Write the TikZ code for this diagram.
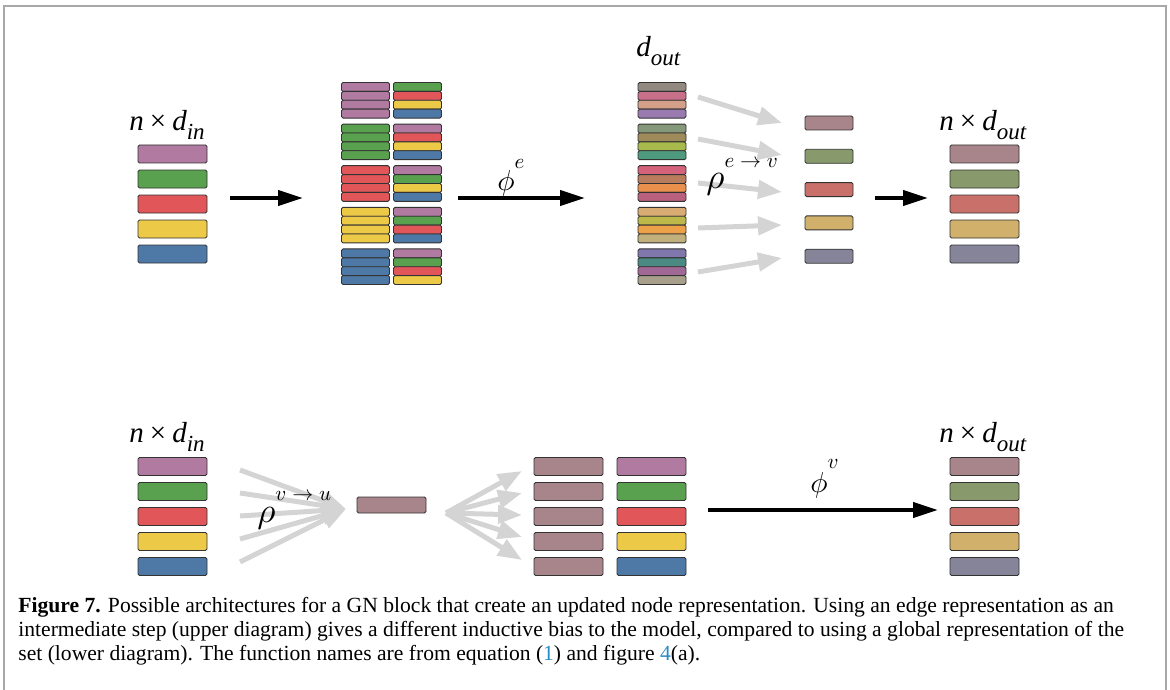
\documentclass[tikz,border=0pt]{standalone}
\usepackage{amsmath,amssymb}
\usepackage{fontspec}
\newfontfamily\capfont{Liberation Serif}
\newfontfamily\labfont{Liberation Serif}
\usetikzlibrary{arrows.meta}
% input colours
\definecolor{cP}{HTML}{B07AA1}
\definecolor{cG}{HTML}{59A14F}
\definecolor{cR}{HTML}{E15759}
\definecolor{cY}{HTML}{EDC948}
\definecolor{cB}{HTML}{4E79A7}
% output colours
\definecolor{o1}{HTML}{A8858A}
\definecolor{o2}{HTML}{889A6C}
\definecolor{o3}{HTML}{C9706A}
\definecolor{o4}{HTML}{D0B06A}
\definecolor{o5}{HTML}{868499}
% edge outputs
\definecolor{d11}{HTML}{928A80}\definecolor{d12}{HTML}{C8708A}\definecolor{d13}{HTML}{D4A08A}\definecolor{d14}{HTML}{9A7BB0}
\definecolor{d21}{HTML}{86987A}\definecolor{d22}{HTML}{9E8A5A}\definecolor{d23}{HTML}{A8BA4C}\definecolor{d24}{HTML}{4E9A7E}
\definecolor{d31}{HTML}{D4627A}\definecolor{d32}{HTML}{B87C5C}\definecolor{d33}{HTML}{E8904C}\definecolor{d34}{HTML}{B8607E}
\definecolor{d41}{HTML}{D8AC72}\definecolor{d42}{HTML}{BCB84A}\definecolor{d43}{HTML}{ECA048}\definecolor{d44}{HTML}{C2B07C}
\definecolor{d51}{HTML}{8078AC}\definecolor{d52}{HTML}{4A8A82}\definecolor{d53}{HTML}{A06894}\definecolor{d54}{HTML}{A8A08A}
\definecolor{lnk}{HTML}{2A8AC4}
\definecolor{frame}{HTML}{A8A8A8}
% italic label with lowered index
\newcommand{\sublab}[2]{\textit{#1}\raisebox{-9pt}{\fontsize{23}{23}\selectfont\textit{#2}}}
\newcommand{\sizelab}[1]{\textit{n}\hspace{6pt}×\hspace{6pt}\sublab{d}{#1}}
% big greek letter with raised superscript
\newcommand{\greeklab}[4]{\scalebox{#1}{$#2$}\raisebox{#3}{\scalebox{2.1}{$#4$}}}

\begin{document}
\begin{tikzpicture}[x=1pt, y=-1pt, thick,
	bar node/.style={draw=black!80, line width=0.9pt, rounded corners=1.5pt, inner sep=0pt,
		minimum width=69pt, minimum height=18pt},
	thin bar/.style={bar node, minimum width=48pt, minimum height=8.9pt},
	small bar/.style={bar node, minimum width=48pt, minimum height=14pt},
	label node/.style={font=\labfont\fontsize{29}{30}\selectfont, inner sep=0pt, anchor=base west},
	greek node/.style={font=\fontsize{10}{10}\selectfont, inner sep=0pt, anchor=base west},
	black arrow/.style={line width=4pt, -{Triangle[length=25pt,width=15pt]}},
	gray arrow/.style={draw=black!17, line width=5pt, -{Triangle[length=24pt,width=18pt]}}]
	
	\useasboundingbox (0,0) rectangle (1170,690);
	\draw[frame, line width=1.2pt] (4,690) -- (4,6) -- (1166,6) -- (1166,690);
	
	% upper diagram
	\node[label node] (lin) at (129,131) {\sizelab{in}};
	\foreach \cl [count=\i] in {cP,cG,cR,cY,cB}
	\node[bar node, fill=\cl] (in\i) at (172.5,{145+9+25*(\i-1)}) {};
	
	\foreach \g/\cl in {1/cP,2/cG,3/cR,4/cY,5/cB}
	\foreach \k in {1,...,4}
	\node[thin bar, fill=\cl] (e\g l\k) at (365.5,{82.5+41.6*(\g-1)+8.9*(\k-0.5)}) {};
	\foreach \g/\a/\b/\c/\d in {1/cG/cR/cY/cB,2/cP/cR/cY/cB,3/cP/cG/cY/cB,4/cP/cG/cR/cB,5/cP/cG/cR/cY}
	\foreach \cl [count=\k] in {\a,\b,\c,\d}
	\node[thin bar, fill=\cl] (e\g r\k) at (417.5,{82.5+41.6*(\g-1)+8.9*(\k-0.5)}) {};
	
	\node[label node] (ldout) at (636,57) {\sublab{d}{out}};
	\foreach \g in {1,...,5}
	\foreach \k in {1,...,4}
	\node[thin bar, fill=d\g\k] (d\g\k) at (662,{82.5+41.6*(\g-1)+8.9*(\k-0.5)}) {};
	
	\foreach \i in {1,...,5}
	\node[small bar, fill=o\i] (agg\i) at (829,{123+33.3*(\i-1)}) {};
	
	\node[label node] (lout) at (939,131) {\sizelab{out}};
	\foreach \i in {1,...,5}
	\node[bar node, fill=o\i] (out\i) at (984.5,{145+9+25*(\i-1)}) {};
	
	\coordinate (a1s) at (230,198);
	\coordinate (a1e) at (303,198);
	\coordinate (a2s) at (458,198);
	\coordinate (a2e) at (585,198);
	\coordinate (a3s) at (875,198);
	\coordinate (a3e) at (928,198);
	\path (a1s) edge[black arrow] (a1e)
	(a2s) edge[black arrow] (a2e)
	(a3s) edge[black arrow] (a3e);
	\node[greek node] (phie) at (497,190) {\greeklab{2.9}{\phi}{22pt}{e}};
	
	\foreach \i/\ys/\yt in {1/97/123,2/139/155,3/183/192,4/228/225,5/272/258}{
		\coordinate (rs\i) at (698,\ys);
		\coordinate (rt\i) at (782,\yt);
		\draw[gray arrow] (rs\i) -- (rt\i);
	}
	\node[greek node] (rhoe) at (706,189) {\greeklab{3.5}{\rho}{21pt}{e\;{\rightarrow}\;v}};
	
	% lower diagram
	\node[label node] (lin2) at (129,442) {\sizelab{in}};
	\foreach \cl [count=\i] in {cP,cG,cR,cY,cB}
	\node[bar node, fill=\cl] (bin\i) at (172.5,{457.5+9+25*(\i-1)}) {};
	
	\coordinate (gin) at (346,509);
	\foreach \i/\ys in {1/470,2/493,3/516,4/539,5/562}{
		\coordinate (fs\i) at (240,\ys);
		\draw[gray arrow] (fs\i) -- (gin);
	}
	\node[greek node] (rhov) at (257,522) {\greeklab{3.5}{\rho}{22pt}{v\;{\rightarrow}\;u}};
	\node[bar node, fill=o1, minimum height=16pt] (glob) at (391.5,505) {};
	
	\coordinate (gout) at (446,513);
	\foreach \i/\yt in {1/471,2/493,3/515,4/537,5/560}{
		\coordinate (ft\i) at (522,\yt);
		\draw[gray arrow] (gout) -- (ft\i);
	}
	
	\foreach \cl [count=\i] in {cP,cG,cR,cY,cB}{
		\node[bar node, fill=o1] (cl\i) at (568.5,{457.5+9+25*(\i-1)}) {};
		\node[bar node, fill=\cl] (cr\i) at (651.5,{457.5+9+25*(\i-1)}) {};
	}
	
	\coordinate (a4s) at (708,510);
	\coordinate (a4e) at (938,510);
	\path (a4s) edge[black arrow] (a4e);
	\node[greek node] (phiv) at (810,492) {\greeklab{2.9}{\phi}{24pt}{v}};
	
	\node[label node] (lout2) at (939,442) {\sizelab{out}};
	\foreach \i in {1,...,5}
	\node[bar node, fill=o\i] (bout\i) at (984.5,{457.5+9+25*(\i-1)}) {};
	
	% caption
	\node[anchor=base west, inner sep=0pt, align=left, font=\capfont\fontsize{21.6}{24}\selectfont] (cap) at (18,660)
	{\textbf{Figure 7.} Possible architectures for a GN block that create an updated node representation. Using an edge representation as an\\
		intermediate step (upper diagram) gives a different inductive bias to the model, compared to using a global representation of the\\
		set (lower diagram). The function names are from equation ({\color{lnk}1}) and figure {\color{lnk}4}(a).};
\end{tikzpicture}
\end{document}
